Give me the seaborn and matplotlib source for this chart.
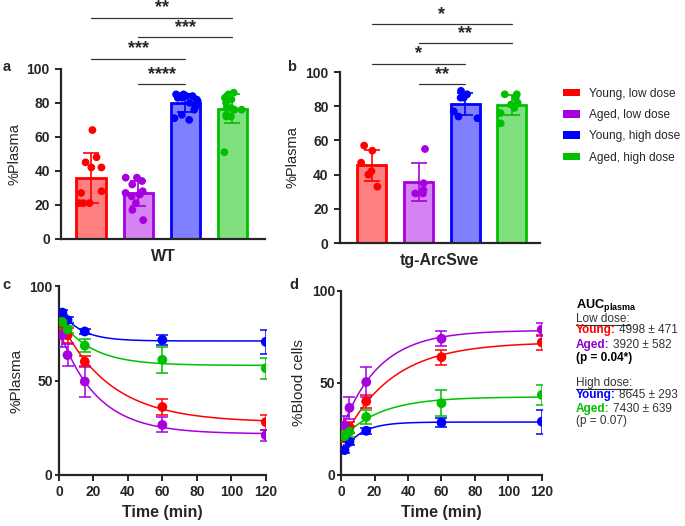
import numpy as np
import pandas as pd
import matplotlib
matplotlib.use('Agg')
import matplotlib.pyplot as plt
import seaborn as sns
from matplotlib.patches import Patch

sns.set_theme(style="ticks")
plt.rcParams.update({
    'font.family': ['Liberation Sans', 'DejaVu Sans'],
    'mathtext.fontset': 'custom',
    'mathtext.rm': 'Liberation Sans',
    'mathtext.bf': 'Liberation Sans:bold',
    'axes.linewidth': 1.6,
    'xtick.major.width': 1.4,
    'ytick.major.width': 1.4,
    'xtick.major.size': 4,
    'ytick.major.size': 4.5,
})
np.random.seed(3)

# group colours (saturated edge / light fill)
GROUPS = ['Young, low dose', 'Aged, low dose', 'Young, high dose', 'Aged, high dose']
EDGE = ['#FF0000', '#A600E0', '#0000FF', '#00C000']
FILL = ['#FF8080', '#D583F2', '#8080FF', '#80E080']

# --- panel a: WT %plasma per animal
wt_young_low = [64, 48, 45, 42, 42, 28, 27, 21, 21, 21]
wt_aged_low = [36, 36, 34, 32, 28, 27, 27, 26, 25, 21, 17, 11]
wt_young_high = [85, 85, 84, 84, 84, 83, 83, 82, 81, 80, 78, 76, 73, 71, 70]
wt_aged_high = [86, 85, 83, 83, 82, 80, 77, 77, 76, 76, 73, 72, 72, 51]

# --- panel b: tg-ArcSwe %plasma per animal
tg_young_low = [57, 54, 47, 42, 40, 33]
tg_aged_low = [55, 35, 31, 29, 29]
tg_young_high = [89, 87, 85, 85, 77, 74, 73]
tg_aged_high = [87, 87, 85, 82, 81, 79, 76, 70]

# significance brackets: (group i, group j, y level, stars)
sig_wt = [(1, 2, 91, '****'), (0, 2, 106, '***'), (1, 3, 118.5, '***'), (0, 3, 130, '**')]
sig_tg = [(1, 2, 93, '**'), (0, 2, 105, '*'), (1, 3, 117, '**'), (0, 3, 128, '*')]

# --- panels c/d: time course (mean, error)
times = [2, 5, 15, 60, 120]
plasma_mean = [
    [80, 74, 60, 36, 28],
    [74, 63.5, 49.5, 26.5, 21],
    [86, 82, 76, 71.5, 70.5],
    [81, 77, 68.5, 61, 56.5],
]
plasma_err = [
    [3, 4, 3, 4.5, 4],
    [6, 6, 8, 4, 3],
    [1.5, 1.5, 1.2, 2.5, 6.5],
    [3, 2, 3.5, 7, 5.5],
]
blood_mean = [
    [20, 26, 40, 64, 72],
    [27, 36.5, 50.5, 74, 79],
    [13.5, 18, 24, 28.5, 29],
    [21, 23.5, 31.5, 39, 43.5],
]
blood_err = [
    [2, 3, 3.5, 4, 4],
    [5, 6, 8, 4, 3.5],
    [1.5, 1.5, 1.5, 2.5, 6.5],
    [3, 3, 4, 7, 5.5],
]

TICKFONT = dict(fontsize=10, fontweight='bold')


def bar_panel(ax, groups, sigs, xlabel, xlim):
    df = pd.DataFrame({
        'group': np.concatenate([[GROUPS[i]] * len(g) for i, g in enumerate(groups)]),
        'value': np.concatenate(groups),
    })
    sns.barplot(data=df, x='group', y='value', hue='group', order=GROUPS,
                hue_order=GROUPS, palette=FILL, errorbar=None, width=0.62,
                saturation=1, legend=False, ax=ax)
    for patch, ec in zip(ax.patches, EDGE):
        patch.set_edgecolor(ec)
        patch.set_linewidth(2)
    means = df.groupby('group')['value'].mean().reindex(GROUPS)
    sds = df.groupby('group')['value'].std().reindex(GROUPS)
    for i, g in enumerate(GROUPS):
        ax.errorbar(i, means[g], yerr=sds[g], color=EDGE[i], capsize=6,
                    elinewidth=1.2, capthick=1.2, zorder=3)
    sns.stripplot(data=df, x='group', y='value', hue='group', order=GROUPS,
                  hue_order=GROUPS, palette=EDGE, size=5.6, jitter=0.28,
                  legend=False, ax=ax, zorder=4)
    for i, j, y, s in sigs:
        ax.plot([i, j], [y, y], color='#333333', lw=0.9, clip_on=False)
        ax.text((i + j) / 2, y + 0.8, s, ha='center', va='bottom', fontsize=13,
                fontweight='bold', clip_on=False)
    ax.set_ylim(0, 100)
    ax.set_xlim(*xlim)
    ax.set_yticks(range(0, 101, 20))
    ax.set_xticks([])
    ax.set_yticklabels([str(v) for v in range(0, 101, 20)], **TICKFONT)
    ax.set_ylabel('%Plasma', fontsize=10.5)
    ax.set_xlabel(xlabel, fontsize=11.5, fontweight='bold', labelpad=7)
    sns.despine(ax=ax)


def fit_curve(t, y):
    # one-phase exponential: plateau + span * exp(-k t), grid over k
    t = np.asarray(t, float)
    y = np.asarray(y, float)
    best = None
    for k in np.logspace(-3, 0.5, 600):
        A = np.column_stack([np.ones_like(t), np.exp(-k * t)])
        coef, *_ = np.linalg.lstsq(A, y, rcond=None)
        sse = np.sum((A @ coef - y) ** 2)
        if best is None or sse < best[0]:
            best = (sse, k, coef)
    _, k, coef = best
    tt = np.linspace(t.min(), 120, 200)
    return tt, coef[0] + coef[1] * np.exp(-k * tt)


def time_panel(ax, means, errs, ylabel):
    for i in range(4):
        tt, yy = fit_curve(times, means[i])
        sns.lineplot(x=tt, y=yy, color=EDGE[i], lw=1.1, ax=ax)
        ax.errorbar(times, means[i], yerr=errs[i], fmt='none', ecolor=EDGE[i],
                    capsize=4, elinewidth=1.1, capthick=1.1, zorder=3)
        sns.scatterplot(x=times, y=means[i], color=EDGE[i], s=50, edgecolor='none',
                        ax=ax, zorder=4)
    ax.set_xlim(0, 120)
    ax.set_ylim(0, 100)
    ax.set_xticks(range(0, 121, 20))
    ax.set_yticks([0, 50, 100])
    ax.set_xticklabels([str(v) for v in range(0, 121, 20)], **TICKFONT)
    ax.set_yticklabels(['0', '50', '100'], **TICKFONT)
    ax.tick_params(axis='y', length=3, pad=1.5)
    ax.set_xlabel('Time (min)', fontsize=11.5, fontweight='bold')
    ax.set_ylabel(ylabel, fontsize=11)
    sns.despine(ax=ax)


fig = plt.figure(figsize=(6.85, 5.26), dpi=100)
ax_a = fig.add_axes([0.089, 0.546, 0.298, 0.323])
ax_b = fig.add_axes([0.496, 0.538, 0.292, 0.325])
ax_c = fig.add_axes([0.086, 0.097, 0.302, 0.359])
ax_d = fig.add_axes([0.498, 0.097, 0.293, 0.350])

bar_panel(ax_a, [wt_young_low, wt_aged_low, wt_young_high, wt_aged_high], sig_wt, 'WT', (-0.64, 3.7))
bar_panel(ax_b, [tg_young_low, tg_aged_low, tg_young_high, tg_aged_high], sig_tg, 'tg-ArcSwe', (-0.69, 3.6))
time_panel(ax_c, plasma_mean, plasma_err, '%Plasma')
time_panel(ax_d, blood_mean, blood_err, '%Blood cells')

for lab, x, y in [('a', 0.004, 0.872), ('b', 0.419, 0.872), ('c', 0.004, 0.458), ('d', 0.422, 0.458)]:
    fig.text(x, y, lab, fontsize=10.5, fontweight='bold', va='center')

handles = [Patch(facecolor=c, edgecolor='none') for c in EDGE]
fig.legend(handles, GROUPS, loc='upper left', bbox_to_anchor=(0.822, 0.833),
           frameon=False, fontsize=8.6, handlelength=1.4, handleheight=0.6,
           labelspacing=0.78, handletextpad=0.8, borderaxespad=0, borderpad=0)

# AUC summary text block
x0 = 0.841
rows = [
    (0.414, [(r'$\mathbf{AUC_{plasma}}$', 'black', 'bold')]),
    (0.388, [('Low dose:', '#333333', 'normal')]),
    (0.366, [('Young:', '#FF0000', 'bold'), ('4998 ± 471', '#333333', 'normal')]),
    (0.339, [('Aged:', '#8A00C8', 'bold'), ('3920 ± 582', '#333333', 'normal')]),
    (0.314, [('(p = 0.04*)', 'black', 'bold')]),
    (0.266, [('High dose:', '#333333', 'normal')]),
    (0.243, [('Young:', '#0000FF', 'bold'), ('8645 ± 293', '#333333', 'normal')]),
    (0.217, [('Aged:', '#00C000', 'bold'), ('7430 ± 639', '#333333', 'normal')]),
    (0.194, [('(p = 0.07)', '#333333', 'normal')]),
]
firsts = []
for y, parts in rows:
    txt, col, wt = parts[0]
    fs = 9.2 if 'AUC' in txt else 8.5
    firsts.append(fig.text(x0, y, txt, color=col, fontweight=wt, fontsize=fs, va='baseline'))

fig.canvas.draw()
inv = fig.transFigure.inverted()
for (y, parts), t in zip(rows, firsts):
    bb = t.get_window_extent().transformed(inv)
    if len(parts) > 1:
        txt, col, wt = parts[1]
        fig.text(bb.x1 + 0.005, y, txt, color=col, fontweight=wt, fontsize=8.5, va='baseline')
    if 'dose' in parts[0][0]:
        fig.add_artist(plt.Line2D([bb.x0, bb.x1], [y - 0.005, y - 0.005],
                                  color='#333333', lw=0.8))

fig.savefig('out.png', dpi=100)
